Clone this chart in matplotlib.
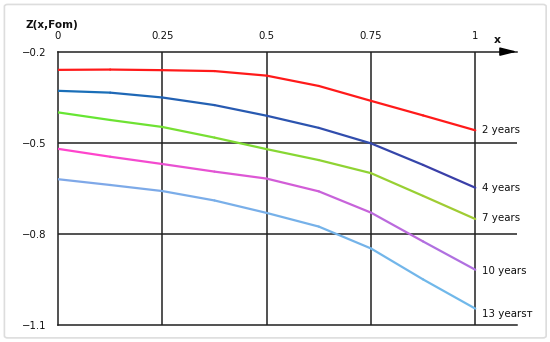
"""Z(x, Fom) curves for several time spans, redrawn as a static PNG."""

import matplotlib

matplotlib.use("Agg")
import matplotlib.pyplot as plt  # noqa: E402
import numpy as np  # noqa: E402
from matplotlib.collections import LineCollection  # noqa: E402
from matplotlib.colors import to_rgb  # noqa: E402
from matplotlib.patches import FancyBboxPatch  # noqa: E402

# values
x_vals = [0, 0.125, 0.25, 0.375, 0.5, 0.625, 0.75, 0.875, 1.0]
z_2y = [-0.26, -0.259, -0.261, -0.264, -0.279, -0.313, -0.362, -0.41, -0.459]
z_4y = [-0.329, -0.335, -0.351, -0.376, -0.411, -0.451, -0.502, -0.573, -0.648]
z_7y = [-0.40, -0.425, -0.448, -0.483, -0.521, -0.557, -0.60, -0.675, -0.751]
z_10y = [-0.52, -0.546, -0.57, -0.595, -0.618, -0.66, -0.730, -0.825, -0.918]
z_13y = [-0.62, -0.639, -0.659, -0.69, -0.731, -0.776, -0.848, -0.95, -1.046]

series_labels = ["2 years", "4 years", "7 years", "10 years", "13 yearsт"]
x_ticks = [0, 0.25, 0.5, 0.75, 1]
x_ticklabels = ["0", "0.25", "0.5", "0.75", "1"]
y_ticks = [-0.2, -0.5, -0.8, -1.1]
y_ticklabels = ["\u22120.2", "\u22120.5", "\u22120.8", "\u22121.1"]

# start / end colours: some curves fade slightly along x in the original
colors = [
    ("#ff1a1a", "#ff1a1a"),
    ("#1a6fb8", "#3a3fa8"),
    ("#66e633", "#a0cc33"),
    ("#ff44cc", "#b070e0"),
    ("#7fa8e8", "#70b8ea"),
]
label_dy = [0, 0, 1, -1, -4]  # small nudges in points

fig = plt.figure(figsize=(5.5, 3.42), dpi=100)
fig.patches.append(FancyBboxPatch((0.008, 0.012), 0.985, 0.975,
                                  boxstyle="round,pad=0,rounding_size=0.006",
                                  transform=fig.transFigure, fill=False,
                                  edgecolor="#dddddd", linewidth=1.2))
ax = fig.add_axes([0.1055, 0.0497, 0.8345, 0.7993])

grid_kw = dict(color="#222222", linewidth=1.1, zorder=1)
for xv in x_ticks[1:]:
    ax.axvline(xv, **grid_kw)
for yv in y_ticks[1:-1]:
    ax.axhline(yv, **grid_kw)


def blend_line(ax, x, y, c0, c1, lw=1.6):
    pts = np.column_stack([x, y])
    segs = np.stack([pts[:-1], pts[1:]], axis=1)
    t = np.linspace(0, 1, len(segs))
    a, b = np.array(to_rgb(c0)), np.array(to_rgb(c1))
    cols = [a + (b - a) * ti for ti in t]
    lc = LineCollection(segs, colors=cols, linewidths=lw, zorder=3,
                        capstyle="round", joinstyle="round")
    ax.add_collection(lc)


for ys, (c0, c1), lab, dy in zip([z_2y, z_4y, z_7y, z_10y, z_13y],
                                 colors, series_labels, label_dy):
    blend_line(ax, x_vals, ys, c0, c1)
    ax.annotate(lab, xy=(x_vals[-1], ys[-1]), xytext=(5, dy),
                textcoords="offset points", va="center", ha="left",
                fontsize=7.4, color="#111111", annotation_clip=False)

ax.set_xlim(0, 1.1)
ax.set_ylim(-1.1, -0.2)

for side in ["left", "top", "bottom"]:
    ax.spines[side].set_color("#222222")
    ax.spines[side].set_linewidth(1.1)
ax.spines["right"].set_visible(False)

ax.xaxis.tick_top()
ax.set_xticks(x_ticks)
ax.set_xticklabels(x_ticklabels)
ax.set_yticks(y_ticks)
ax.set_yticklabels(y_ticklabels)
ax.tick_params(axis="x", length=0, pad=8, labelsize=7.3, colors="#111111")
ax.tick_params(axis="y", length=0, pad=8, labelsize=7.3, colors="#111111")

# arrow head at the end of the top axis
ax.annotate("", xy=(1.0, 1.0), xytext=(0.965, 1.0), xycoords="axes fraction",
            arrowprops=dict(arrowstyle="-|>,head_length=1.0,head_width=0.25",
                            color="black", linewidth=1.1, shrinkA=0, shrinkB=0),
            annotation_clip=False)

fig.text(25 / 550, 1 - 24.5 / 342, "Z(x,Fom)", fontsize=7.5, fontweight="bold",
         ha="left", va="center", color="#111111")
fig.text(497 / 550, 1 - 40 / 342, "x", fontsize=7.8, fontweight="bold",
         ha="center", va="center", color="#111111")

fig.savefig("out.png", dpi=100)
plt.close(fig)
